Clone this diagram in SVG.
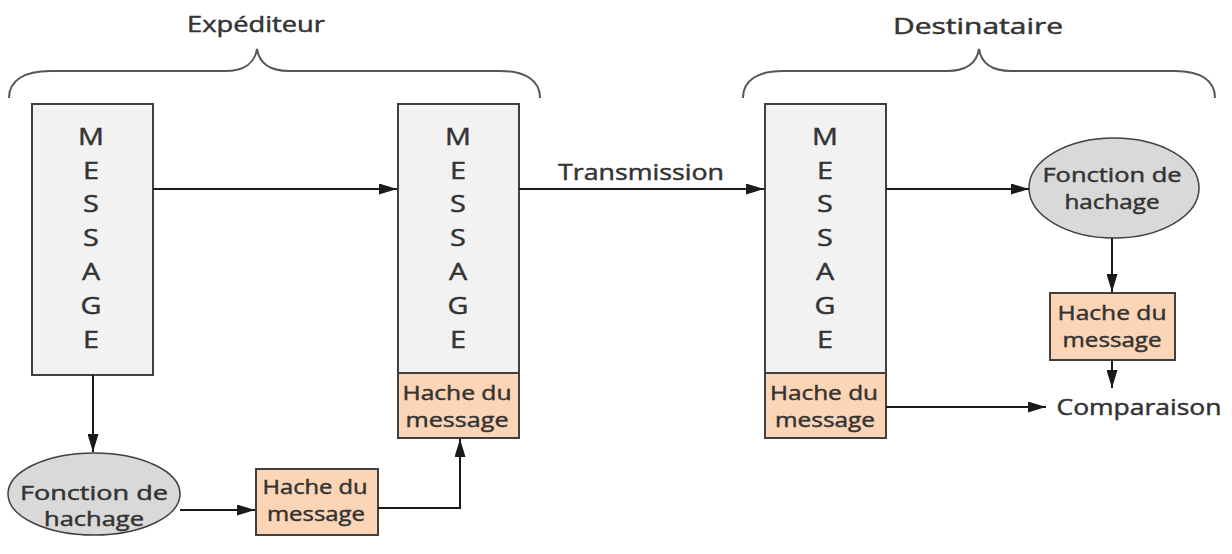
<svg xmlns="http://www.w3.org/2000/svg" width="1232" height="554" viewBox="0 0 1232 554">
<style>
text{font-family:"Open Sans","Liberation Sans",sans-serif;fill:#333;stroke:#333;stroke-width:0.45;text-anchor:middle;font-weight:normal}
.msg{fill:#f2f2f2;stroke:#404040;stroke-width:2}
.hache{fill:#fbd5b5;stroke:#404040;stroke-width:2}
.fn{fill:#d9d9d9;stroke:#404040;stroke-width:1.5}
.l{font-size:24px}
.s{font-size:20px}
.t{font-size:21px}
.con{fill:none;stroke:#1a1a1a;stroke-width:2}
.br{fill:none;stroke:#555;stroke-width:2}
</style>
<defs>
<marker id="ar" viewBox="0 0 10 10" refX="10" refY="5" markerWidth="18" markerHeight="11" markerUnits="userSpaceOnUse" orient="auto" preserveAspectRatio="none">
<path d="M0,0L10,5L0,10z" fill="#1a1a1a"/>
</marker>
</defs>
<g id="brace-exp">
<path class="br" d="M9,98 C9,80 25,71 50,71 L225,71 C245,71 255,62 257,49 C259,62 269,71 289,71 L500,71 C525,71 540,80 540,98"/>
<text class="t" x="256" y="32" textLength="138" lengthAdjust="spacingAndGlyphs">Expéditeur</text>
</g>
<g id="brace-dest">
<path class="br" d="M743,98 C743,80 758,71 783,71 L947,71 C967,71 977,62 979,49 C981,62 991,71 1011,71 L1175,71 C1200,71 1215,80 1215,98"/>
<text class="t" x="978" y="34" textLength="170" lengthAdjust="spacingAndGlyphs">Destinataire</text>
</g>
<g id="msg1">
<rect class="msg" x="32" y="104" width="121" height="271"/>
<text class="l" transform="translate(91,0) scale(1.2,1)"><tspan x="0" y="145">M</tspan><tspan x="0" y="179">E</tspan><tspan x="0" y="212">S</tspan><tspan x="0" y="246">S</tspan><tspan x="0" y="280">A</tspan><tspan x="0" y="314">G</tspan><tspan x="0" y="348">E</tspan></text>
</g>
<g id="msg2">
<rect class="msg" x="398" y="104" width="121" height="269"/>
<text class="l" transform="translate(458,0) scale(1.2,1)"><tspan x="0" y="145">M</tspan><tspan x="0" y="179">E</tspan><tspan x="0" y="212">S</tspan><tspan x="0" y="246">S</tspan><tspan x="0" y="280">A</tspan><tspan x="0" y="314">G</tspan><tspan x="0" y="348">E</tspan></text>
<rect class="hache" x="398" y="373" width="121" height="65"/>
<text class="s" x="457" y="400" textLength="109" lengthAdjust="spacingAndGlyphs">Hache du</text>
<text class="s" x="457" y="427" textLength="103" lengthAdjust="spacingAndGlyphs">message</text>
</g>
<g id="msg3">
<rect class="msg" x="765" y="104" width="121" height="269"/>
<text class="l" transform="translate(825,0) scale(1.2,1)"><tspan x="0" y="145">M</tspan><tspan x="0" y="179">E</tspan><tspan x="0" y="212">S</tspan><tspan x="0" y="246">S</tspan><tspan x="0" y="280">A</tspan><tspan x="0" y="314">G</tspan><tspan x="0" y="348">E</tspan></text>
<rect class="hache" x="765" y="373" width="121" height="65"/>
<text class="s" x="824" y="400" textLength="108" lengthAdjust="spacingAndGlyphs">Hache du</text>
<text class="s" x="825" y="427" textLength="100" lengthAdjust="spacingAndGlyphs">message</text>
</g>
<g id="fn1">
<ellipse class="fn" cx="94" cy="494" rx="86" ry="41"/>
<text class="s" x="94" y="500" textLength="148" lengthAdjust="spacingAndGlyphs">Fonction de</text>
<text class="s" x="94" y="526" textLength="100" lengthAdjust="spacingAndGlyphs">hachage</text>
</g>
<g id="hache1">
<rect class="hache" x="256" y="469" width="122" height="66"/>
<text class="s" x="315" y="494" textLength="105" lengthAdjust="spacingAndGlyphs">Hache du</text>
<text class="s" x="316" y="521" textLength="98" lengthAdjust="spacingAndGlyphs">message</text>
</g>
<g id="fn2">
<ellipse class="fn" cx="1114" cy="188" rx="85" ry="50"/>
<text class="s" x="1112" y="182" textLength="139" lengthAdjust="spacingAndGlyphs">Fonction de</text>
<text class="s" x="1112" y="209" textLength="95" lengthAdjust="spacingAndGlyphs">hachage</text>
</g>
<g id="hache2">
<rect class="hache" x="1050" y="293" width="125" height="67"/>
<text class="s" x="1112" y="320" textLength="109" lengthAdjust="spacingAndGlyphs">Hache du</text>
<text class="s" x="1112" y="347" textLength="99" lengthAdjust="spacingAndGlyphs">message</text>
</g>
<g id="comparaison">
<text class="t" x="1139" y="415" textLength="165" lengthAdjust="spacingAndGlyphs">Comparaison</text>
</g>
<g id="connectors">
<line class="con" x1="153" y1="189" x2="397" y2="189" marker-end="url(#ar)"/>
<line class="con" x1="519" y1="189" x2="764" y2="189" marker-end="url(#ar)"/>
<text class="t" x="641" y="180" textLength="166" lengthAdjust="spacingAndGlyphs">Transmission</text>
<line class="con" x1="886" y1="189" x2="1029" y2="189" marker-end="url(#ar)"/>
<line class="con" x1="93" y1="375" x2="93" y2="452" marker-end="url(#ar)"/>
<line class="con" x1="180" y1="510" x2="255" y2="510" marker-end="url(#ar)"/>
<path class="con" d="M378,508 L460,508 L460,439" marker-end="url(#ar)"/>
<line class="con" x1="1112" y1="238" x2="1112" y2="292" marker-end="url(#ar)"/>
<line class="con" x1="1112" y1="360" x2="1112" y2="388" marker-end="url(#ar)"/>
<line class="con" x1="886" y1="407" x2="1046" y2="407" marker-end="url(#ar)"/>
</g>
</svg>
